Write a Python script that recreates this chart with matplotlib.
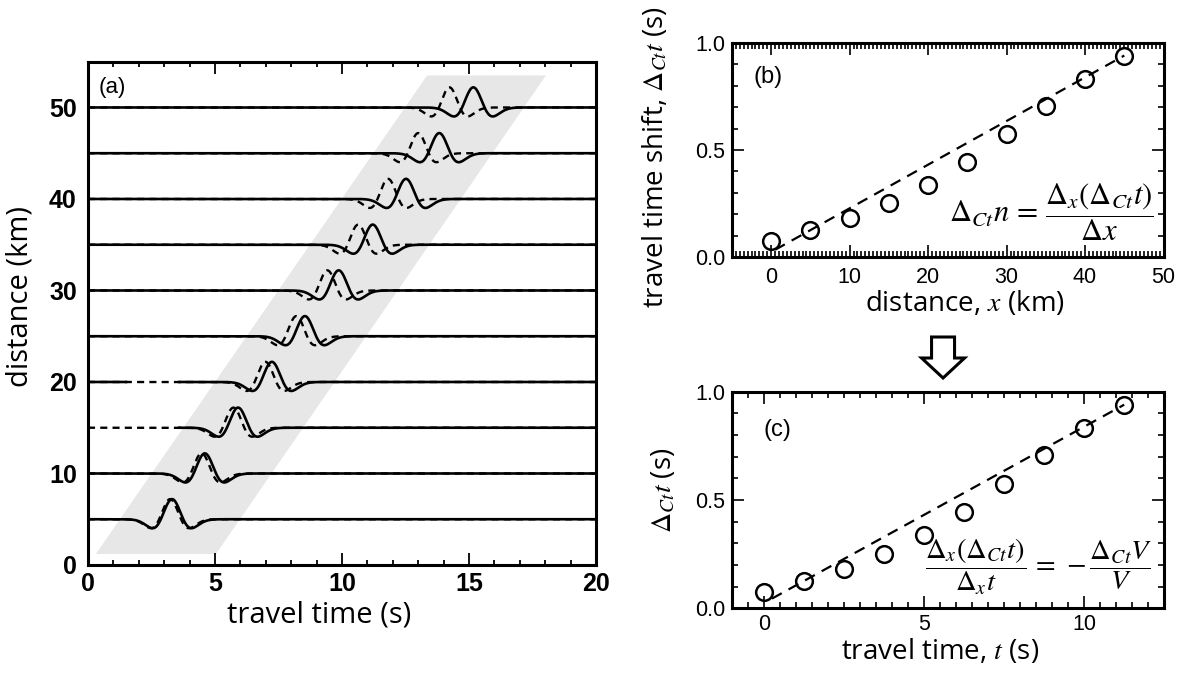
import matplotlib.pyplot as plt
import numpy as np
from matplotlib.patches import Polygon, FancyArrow
from matplotlib.ticker import MultipleLocator

plt.rcParams['mathtext.fontset'] = 'stix'
plt.rcParams['font.family'] = ['Liberation Sans', 'DejaVu Sans']

# (a) traces: distance of each record and arrival of the solid pulse peak
trace_dist = [5, 10, 15, 20, 25, 30, 35, 40, 45, 50]
peak_time = [3.31, 4.60, 5.91, 7.24, 8.54, 9.87, 11.21, 12.52, 13.83, 15.17]
# time spans where the solid record is missing (only dashed visible)
solid_gaps = {15: (0.0, 3.6), 20: (1.5, 3.6)}
# shaded band (corners, travel time / distance)
band_time = [0.31, 5.04, 18.03, 13.35]
band_dist = [1.2, 1.2, 53.5, 53.5]

# (b), (c): measured travel time shift
shift_dist = [0, 5, 10, 15, 20, 25, 30, 35, 40, 45]
shift_ttime = [0, 1.25, 2.5, 3.75, 5.0, 6.25, 7.5, 8.75, 10.0, 11.25]
time_shift = [0.077, 0.127, 0.183, 0.253, 0.338, 0.445, 0.574, 0.706, 0.832, 0.94]
fit_dist = [0.5, 45]
fit_shift_b = [0.035, 0.94]
fit_ttime = [0.25, 11.25]
fit_shift_c = [0.045, 0.94]

label_font = 'Open Sans'
AMP, FREQ = 2.2, 0.51


def ricker(t, t0, f):
	a = (np.pi * f * (t - t0)) ** 2
	return (1 - 2 * a) * np.exp(-a)


fig = plt.figure(figsize=(11.84, 6.73), dpi=100)

# ---- panel (a)
axa = fig.add_axes([0.0743, 0.1605, 0.4291, 0.7478])
axa.add_patch(Polygon(np.column_stack([band_time, band_dist]), closed=True,
	fc='#e7e7e7', ec='none', zorder=0))
t = np.linspace(0, 20, 4001)
for d, tp, dt in zip(trace_dist, peak_time, time_shift):
	t_ref = tp - dt
	dashed = d + AMP * ricker(t, t_ref, FREQ * tp / t_ref)
	solid = d + AMP * ricker(t, tp, FREQ)
	if d in solid_gaps:
		g0, g1 = solid_gaps[d]
		solid = np.where((t >= g0) & (t < g1), np.nan, solid)
	axa.plot(t, dashed, color='black', lw=1.7, dashes=(3.0, 2.2), zorder=2)
	axa.plot(t, solid, color='black', lw=1.9, zorder=3)
axa.set_xlim(0, 20)
axa.set_ylim(0, 55)
axa.xaxis.set_major_locator(MultipleLocator(5))
axa.xaxis.set_minor_locator(MultipleLocator(1))
axa.set_yticks([0, 10, 20, 30, 40, 50])
axa.tick_params(axis='x', which='both', direction='in', top=True, width=1.3, pad=5, labelsize=18)
axa.tick_params(axis='x', which='major', length=8.5)
axa.tick_params(axis='x', which='minor', length=3.5)
axa.tick_params(axis='y', length=0, pad=8, labelsize=18)
for lab in axa.get_xticklabels() + axa.get_yticklabels():
	lab.set_fontweight('bold')
axa.text(0.4, 52.2, '(a)', fontsize=16, va='center', ha='left')
for s in axa.spines.values():
	s.set_linewidth(2.2)


def style_small(ax, xmajor, xminor, xpad):
	ax.set_ylim(0, 1.0)
	ax.xaxis.set_major_locator(MultipleLocator(xmajor))
	ax.xaxis.set_minor_locator(MultipleLocator(xminor))
	ax.yaxis.set_major_locator(MultipleLocator(0.5))
	ax.yaxis.set_minor_locator(MultipleLocator(0.1))
	ax.tick_params(which='both', direction='in', top=True, right=True, width=1.2, labelsize=15.5)
	ax.tick_params(which='major', length=8.5)
	ax.tick_params(which='minor', length=4)
	ax.tick_params(axis='x', pad=xpad)
	ax.tick_params(axis='y', pad=5)
	ax.yaxis.set_major_formatter(lambda v, p: f'{v:.1f}')
	for s in ax.spines.values():
		s.set_linewidth(2.2)


# ---- panel (b)
axb = fig.add_axes([0.6182, 0.6177, 0.3645, 0.3189])
axb.plot(fit_dist, fit_shift_b, color='black', lw=1.6, dashes=(5, 3.5))
axb.plot(shift_dist, time_shift, 'o', mfc='none', mec='black', ms=12, mew=1.8)
axb.set_xlim(-5, 50)
style_small(axb, 10, 0.5, 7)
axb.text(0.049, 0.84, '(b)', transform=axb.transAxes, fontsize=17, va='center')
axb.text(0.978, 0.21, r'$\Delta_{Ct}n\,=\,\dfrac{\Delta_x(\Delta_{Ct}t)}{\Delta x}$',
	transform=axb.transAxes, fontsize=22, ha='right', va='center')

# ---- panel (c)
axc = fig.add_axes([0.6182, 0.0961, 0.3651, 0.3219])
axc.plot(fit_ttime, fit_shift_c, color='black', lw=1.6, dashes=(5, 3.5))
axc.plot(shift_ttime, time_shift, 'o', mfc='none', mec='black', ms=12, mew=1.8)
axc.set_xlim(-1, 12.5)
style_small(axc, 5, 0.5, 4)
axc.text(0.072, 0.823, '(c)', transform=axc.transAxes, fontsize=17, va='center')
axc.text(0.973, 0.19, r'$\dfrac{\Delta_x(\Delta_{Ct}t)}{\Delta_x t}\,=\,-\dfrac{\Delta_{Ct}V}{V}$',
	transform=axc.transAxes, fontsize=20.5, ha='right', va='center')

# ---- axis labels
fig.text(0.0169, 0.5587, 'distance (km)', rotation=90, ha='center', va='center',
	fontsize=21, family=label_font)
fig.text(0.2694, 0.0862, 'travel time (s)', ha='center', va='center',
	fontsize=21, family=label_font)
fig.text(0.554, 0.7667, r'travel time shift, $\Delta_{Ct}t$ (s)', rotation=90,
	ha='center', va='center', fontsize=20, family=label_font)
fig.text(0.8147, 0.5483, r'distance, $x$ (km)', ha='center', va='center',
	fontsize=20, family=label_font)
fig.text(0.5608, 0.2719, r'$\Delta_{Ct}t$ (s)', rotation=90, ha='center', va='center',
	fontsize=20, family=label_font)
fig.text(0.7939, 0.0317, r'travel time, $t$ (s)', ha='center', va='center',
	fontsize=20, family=label_font)

# hollow arrow from (b) to (c)
fig.patches.append(FancyArrow(0.7965, 1 - 337 / 673, 0, -41 / 673, width=23 / 1184,
	head_width=43 / 1184, head_length=20 / 673, length_includes_head=True,
	fc='white', ec='black', lw=2.2, transform=fig.transFigure, figure=fig))

fig.savefig('out.png', dpi=100)
